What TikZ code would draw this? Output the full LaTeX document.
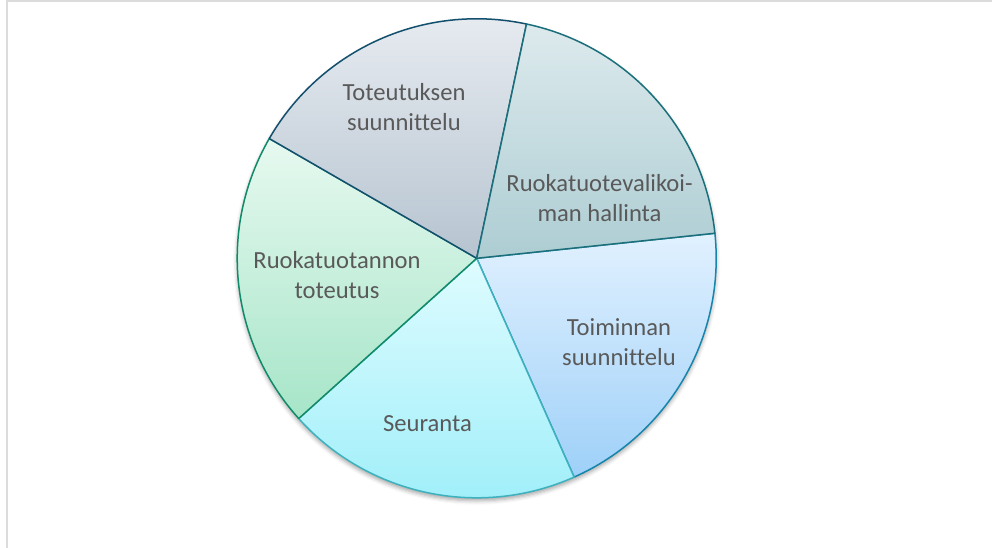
\documentclass[tikz,border=0pt]{standalone}
\usepackage{fontspec}
\setmainfont{Carlito}[Ligatures=NoCommon]
\usetikzlibrary{shadows.blur}
\definecolor{txt}{HTML}{595959}
\definecolor{frame}{HTML}{DCDCDC}
\definecolor{aTop}{HTML}{E9EDF2}\definecolor{aBot}{HTML}{B6C4D0}\definecolor{aLine}{HTML}{13506E}
\definecolor{bTop}{HTML}{DDEAED}\definecolor{bBot}{HTML}{ADCDD3}\definecolor{bLine}{HTML}{1B6F7B}
\definecolor{cTop}{HTML}{E1F1FF}\definecolor{cBot}{HTML}{9ED0F8}\definecolor{cLine}{HTML}{1685AC}
\definecolor{dTop}{HTML}{DEFCFF}\definecolor{dBot}{HTML}{9CEEF9}\definecolor{dLine}{HTML}{3DB1BD}
\definecolor{eTop}{HTML}{E7F9F0}\definecolor{eBot}{HTML}{A6E5C8}\definecolor{eLine}{HTML}{108A68}
\begin{document}
\begin{tikzpicture}[x=1pt,y=1pt,
  lbl/.style={text=txt,align=center,font=\fontsize{24.6}{30}\selectfont,inner sep=0pt},
  slice/.style={line width=1.5pt,line join=round}]
\useasboundingbox (0,0) rectangle (992,548);
\draw[frame,line width=2pt] (6.5,0) -- (6.5,546.5) -- (992,546.5);
\coordinate (c) at (476.7,289.7);
\def\R{239.5}
% shadow
\path[blur shadow={shadow xshift=0pt,shadow yshift=-3pt,shadow blur radius=4pt,shadow opacity=35}] (c) circle (\R);
% slices
\path[slice,draw=cLine,top color=cTop,bottom color=cBot] (c) -- ++(-66:\R) arc[start angle=-66,end angle=6,radius=\R] -- cycle;
\path[slice,draw=dLine,top color=dTop,bottom color=dBot] (c) -- ++(222:\R) arc[start angle=222,end angle=294,radius=\R] -- cycle;
\path[slice,draw=eLine,top color=eTop,bottom color=eBot] (c) -- ++(150:\R) arc[start angle=150,end angle=222,radius=\R] -- cycle;
\path[slice,draw=aLine,top color=aTop,bottom color=aBot] (c) -- ++(78:\R) arc[start angle=78,end angle=150,radius=\R] -- cycle;
\path[slice,draw=bLine,top color=bTop,bottom color=bBot] (c) -- ++(6:\R) arc[start angle=6,end angle=78,radius=\R] -- cycle;
% labels
\node[lbl] (t1) at (404,441) {Toteutuksen\\suunnittelu};
\node[lbl] (t2) at (599.5,350) {Ruokatuotevalikoi-\\man hallinta};
\node[lbl] (t3) at (619,206) {Toiminnan\\suunnittelu};
\node[lbl] (t4) at (427.5,124) {Seuranta};
\node[lbl] (t5) at (337,273) {Ruokatuotannon\\toteutus};
\end{tikzpicture}
\end{document}
